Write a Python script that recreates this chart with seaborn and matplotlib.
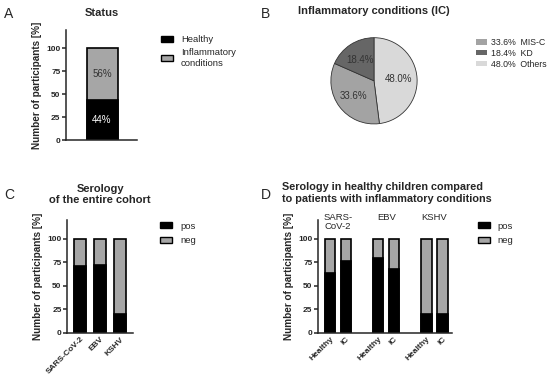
import numpy as np
import pandas as pd
import matplotlib.pyplot as plt
import seaborn as sns
from matplotlib.patches import Patch

sns.set_style('ticks')
plt.rcParams['font.family'] = ['Liberation Sans', 'DejaVu Sans']

# panel A
status_labels = ['Healthy', 'Inflammatory\nconditions']
status_values = [44, 56]

# panel B
ic_labels = ['MIS-C', 'KD', 'Others']
ic_values = [33.6, 18.4, 48.0]

# panel C
viruses = ['SARS-CoV-2', 'EBV', 'KSHV']
cohort_pos = [71, 72, 20]

# panel D
groups = ['Healthy', 'IC']
group_pos = {'SARS-CoV-2': [63.5, 76.5], 'EBV': [79.5, 68], 'KSHV': [20, 20]}
virus_heads = ['SARS-\nCoV-2', 'EBV', 'KSHV']

black = '#000000'
grey = '#a6a6a6'
pie_colors = ['#a3a3a3', '#666666', '#d9d9d9']

fig = plt.figure(figsize=(5.5, 3.83), dpi=100)


def style_bar_axes(ax):
    sns.despine(ax=ax)
    ax.set_ylim(0, 120)
    ax.set_yticks([0, 25, 50, 75, 100])
    for s in ['left', 'bottom']:
        ax.spines[s].set_linewidth(1.1)
    ax.tick_params(axis='y', length=3, width=1.1, labelsize=6, pad=1)
    ax.tick_params(axis='x', length=0, labelsize=6, pad=2)
    for t in ax.get_yticklabels() + ax.get_xticklabels():
        t.set_fontweight('bold')
    ax.set_ylabel('Number of participants [%]', fontsize=7.2, fontweight='bold', labelpad=3)
    ax.set_xlabel('')


def stacked(ax, df, x, order, width):
    df = df.copy()
    df['total'] = 100
    sns.barplot(data=df, x=x, y='total', order=order, color=grey, width=width,
                edgecolor='black', linewidth=1.2, ax=ax)
    sns.barplot(data=df, x=x, y='pos', order=order, color=black, width=width,
                edgecolor='black', linewidth=1.2, ax=ax)


def posneg_legend(ax, x, y):
    ax.legend(handles=[Patch(facecolor=black, edgecolor='black', lw=1, label='pos'),
                       Patch(facecolor=grey, edgecolor='black', lw=1, label='neg')],
              loc='upper left', bbox_to_anchor=(x, y), frameon=False,
              fontsize=6.8, handlelength=1.3, handleheight=0.6, labelspacing=0.6,
              handletextpad=0.8)


# ---- A
axA = fig.add_axes([0.12, 0.634, 0.129, 0.288])
dfA = pd.DataFrame({'cat': ['Status'], 'pos': [status_values[0]]})
stacked(axA, dfA, 'cat', ['Status'], 0.8)
axA.set_xlim(-0.93, 0.9)
style_bar_axes(axA)
axA.set_xticks([])
axA.text(0, status_values[0] / 2, f'{status_values[0]}%', color='white',
         ha='center', va='center', fontsize=7)
axA.text(0, status_values[0] + status_values[1] / 2, f'{status_values[1]}%',
         color='#333333', ha='center', va='center', fontsize=7)
axA.set_title('Status', fontsize=8, fontweight='bold', pad=10)
axA.legend(handles=[Patch(facecolor=black, edgecolor='black', lw=1, label=status_labels[0]),
                    Patch(facecolor=grey, edgecolor='black', lw=1, label=status_labels[1])],
           loc='upper left', bbox_to_anchor=(1.22, 1.03), frameon=False,
           fontsize=6.8, handlelength=1.3, handleheight=0.6, labelspacing=0.45,
           handletextpad=0.8)

# ---- B
axB = fig.add_axes([0.582, 0.648, 0.196, 0.282])
order_pie = [2, 0, 1]
wedges, texts, autotexts = axB.pie([ic_values[i] for i in order_pie],
                                   colors=[pie_colors[i] for i in order_pie],
                                   startangle=90, counterclock=False,
                                   autopct='%1.1f%%', pctdistance=0.58,
                                   wedgeprops=dict(edgecolor='#333333', linewidth=0.6),
                                   textprops=dict(fontsize=7, color='#333333'))
axB.set_aspect('equal')
axB.set_title('Inflammatory conditions (IC)', fontsize=8, fontweight='bold', pad=9)
wmap = {order_pie[k]: wedges[k] for k in range(3)}
axB.legend([wmap[i] for i in range(3)],
           [f'{ic_values[i]:.1f}%  {ic_labels[i]}' for i in range(3)],
           loc='upper left', bbox_to_anchor=(1.37, 0.97), frameon=False,
           fontsize=6.3, handlelength=1.3, handleheight=0.6, labelspacing=0.2,
           handletextpad=0.5)
for h in axB.get_legend().legend_handles:
    h.set_edgecolor('none')

# ---- C
axC = fig.add_axes([0.122, 0.131, 0.12, 0.295])
dfC = pd.DataFrame({'virus': viruses, 'pos': cohort_pos})
stacked(axC, dfC, 'virus', viruses, 0.62)
axC.set_xlim(-0.65, 2.65)
style_bar_axes(axC)
axC.set_xticks(range(3))
axC.set_xticklabels(viruses, rotation=45, ha='right', rotation_mode='anchor',
                    fontweight='bold', fontsize=6)
axC.set_title('Serology\nof the entire cohort', fontsize=8, fontweight='bold', pad=12,
              linespacing=1.1)
posneg_legend(axC, 1.28, 1.06)

# ---- D
axD = fig.add_axes([0.578, 0.131, 0.244, 0.295])
rows = []
order_D = []
for i, v in enumerate(viruses):
    for g, p in zip(groups, group_pos[v]):
        rows.append({'slot': f'{v}_{g}', 'pos': p})
        order_D.append(f'{v}_{g}')
    if i < len(viruses) - 1:
        order_D.append(f'gap{i}')
dfD = pd.DataFrame(rows)
stacked(axD, dfD, 'slot', order_D, 0.65)
axD.set_xlim(-0.75, 7.6)
style_bar_axes(axD)
tick_pos = [k for k, s in enumerate(order_D) if not s.startswith('gap')]
axD.set_xticks(tick_pos)
axD.set_xticklabels([s.split('_')[1] for s in order_D if not s.startswith('gap')],
                    rotation=45, ha='right', rotation_mode='anchor',
                    fontweight='bold', fontsize=6)
for k, head in enumerate(virus_heads):
    axD.text(3 * k + 0.5, 127.5, head, ha='center', va='top', fontsize=6.8,
             linespacing=1.0, clip_on=False)
posneg_legend(axD, 1.13, 1.06)
fig.text(282 / 550, 1 - 182 / 383,
         'Serology in healthy children compared\nto patients with inflammatory conditions',
         ha='left', va='top', fontsize=7.8, fontweight='bold', linespacing=1.3)

# panel letters
for letter, (px, py) in {'A': (4, 7), 'B': (261, 7), 'C': (4, 188), 'D': (261, 188)}.items():
    fig.text(px / 550, 1 - py / 383, letter, fontsize=10, va='top', ha='left')

fig.savefig('out.png', dpi=100)
